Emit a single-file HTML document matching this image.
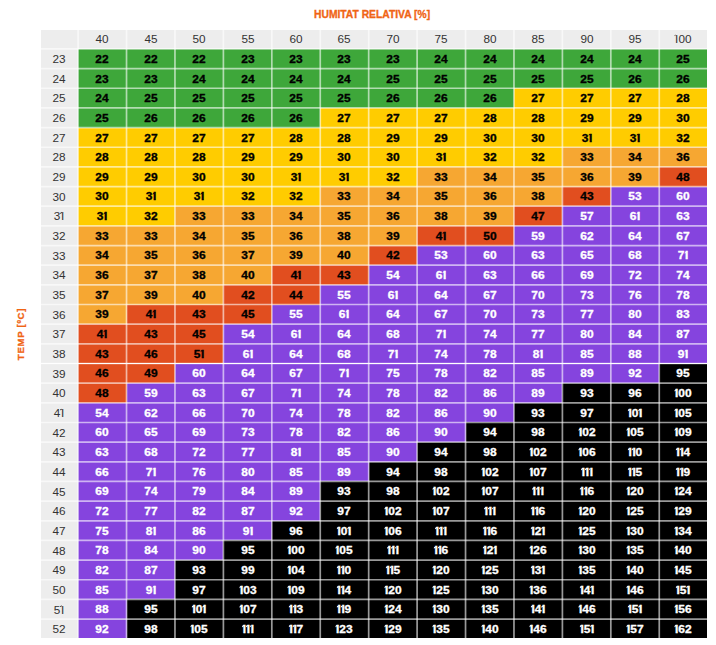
<!DOCTYPE html>
<html><head><meta charset="utf-8"><style>
html,body{margin:0;padding:0;background:#fff;width:716px;height:645px;overflow:hidden;position:relative;font-family:"Liberation Sans",sans-serif}
.c{position:absolute;white-space:nowrap;overflow:visible}
.c span{position:absolute;left:50%;transform:translate(-50%,-50%)}
.h{background:#ededed;color:#333333;font-size:11.2px;line-height:1}
.d{font-weight:bold;font-size:10.4px;color:#000;line-height:1;-webkit-text-stroke:0.3px currentColor}
.d span{transform:translate(-50%,-50%) scaleX(1.15)}
.h span{transform:translate(-50%,-50%) scaleX(1.05)}
i{font-style:normal;position:relative;display:inline-block}
i::before{content:"";position:absolute;background:currentColor;clip-path:polygon(100% 0,100% 50%,0 100%,0 50%)}
.d i{margin:0 -0.01em 0 0.06em}
.d i::before{left:-0.07em;top:0.0em;width:0.17em;height:0.28em}
.h i{margin:0 0.0em 0 0.05em;font-weight:normal}
.h i::before{left:-0.08em;top:0.0em;width:0.16em;height:0.2em}
.g{background:#3ea73a}
.y{background:#ffcc00}
.o{background:#f6a732}
.r{background:#e14e1f}
.p{background:#8544de;color:#fff}
.k{background:#000000;color:#fff}
.lv{position:absolute;top:29.6px;height:608.70px;width:1.7px;background:rgba(255,255,255,0.6)}
.lh{position:absolute;left:40.6px;width:666.40px;height:1.7px;background:rgba(255,255,255,0.6)}
.t1{position:absolute;color:#f06414;font-weight:bold;font-size:10.0px;white-space:nowrap;line-height:1;-webkit-text-stroke:0.3px currentColor}
</style></head><body>
<div class="t1" style="left:314.3px;top:10.3px;transform:scaleX(1.03);transform-origin:0 0">HUMITAT RELATIVA [%]</div>
<div class="t1" style="left:21.0px;top:334.3px;transform:translate(-50%,-50%) rotate(-90deg) scaleX(1.0);font-size:9.6px;letter-spacing:0.7px">TEMP [ºC]</div>
<div class="c h" style="left:40.60px;top:29.60px;width:37.50px;height:19.34px"><span style="top:10.17px"></span></div>
<div class="c h" style="left:78.10px;top:29.60px;width:48.43px;height:19.34px"><span style="top:10.17px">40</span></div>
<div class="c h" style="left:126.53px;top:29.60px;width:48.43px;height:19.34px"><span style="top:10.17px">45</span></div>
<div class="c h" style="left:174.96px;top:29.60px;width:48.43px;height:19.34px"><span style="top:10.17px">50</span></div>
<div class="c h" style="left:223.39px;top:29.60px;width:48.43px;height:19.34px"><span style="top:10.17px">55</span></div>
<div class="c h" style="left:271.82px;top:29.60px;width:48.43px;height:19.34px"><span style="top:10.17px">60</span></div>
<div class="c h" style="left:320.25px;top:29.60px;width:48.43px;height:19.34px"><span style="top:10.17px">65</span></div>
<div class="c h" style="left:368.68px;top:29.60px;width:48.43px;height:19.34px"><span style="top:10.17px">70</span></div>
<div class="c h" style="left:417.11px;top:29.60px;width:48.43px;height:19.34px"><span style="top:10.17px">75</span></div>
<div class="c h" style="left:465.54px;top:29.60px;width:48.43px;height:19.34px"><span style="top:10.17px">80</span></div>
<div class="c h" style="left:513.97px;top:29.60px;width:48.43px;height:19.34px"><span style="top:10.17px">85</span></div>
<div class="c h" style="left:562.40px;top:29.60px;width:48.43px;height:19.34px"><span style="top:10.17px">90</span></div>
<div class="c h" style="left:610.83px;top:29.60px;width:48.43px;height:19.34px"><span style="top:10.17px">95</span></div>
<div class="c h" style="left:659.26px;top:29.60px;width:47.74px;height:19.34px"><span style="top:10.17px"><i>I</i>00</span></div>
<div class="c h" style="left:40.60px;top:48.94px;width:37.50px;height:19.66px"><span style="top:11.23px">23</span></div>
<div class="c d g" style="left:78.10px;top:48.94px;width:48.43px;height:19.66px"><span style="top:10.93px">22</span></div>
<div class="c d g" style="left:126.53px;top:48.94px;width:48.43px;height:19.66px"><span style="top:10.93px">22</span></div>
<div class="c d g" style="left:174.96px;top:48.94px;width:48.43px;height:19.66px"><span style="top:10.93px">22</span></div>
<div class="c d g" style="left:223.39px;top:48.94px;width:48.43px;height:19.66px"><span style="top:10.93px">23</span></div>
<div class="c d g" style="left:271.82px;top:48.94px;width:48.43px;height:19.66px"><span style="top:10.93px">23</span></div>
<div class="c d g" style="left:320.25px;top:48.94px;width:48.43px;height:19.66px"><span style="top:10.93px">23</span></div>
<div class="c d g" style="left:368.68px;top:48.94px;width:48.43px;height:19.66px"><span style="top:10.93px">23</span></div>
<div class="c d g" style="left:417.11px;top:48.94px;width:48.43px;height:19.66px"><span style="top:10.93px">24</span></div>
<div class="c d g" style="left:465.54px;top:48.94px;width:48.43px;height:19.66px"><span style="top:10.93px">24</span></div>
<div class="c d g" style="left:513.97px;top:48.94px;width:48.43px;height:19.66px"><span style="top:10.93px">24</span></div>
<div class="c d g" style="left:562.40px;top:48.94px;width:48.43px;height:19.66px"><span style="top:10.93px">24</span></div>
<div class="c d g" style="left:610.83px;top:48.94px;width:48.43px;height:19.66px"><span style="top:10.93px">24</span></div>
<div class="c d g" style="left:659.26px;top:48.94px;width:47.74px;height:19.66px"><span style="top:10.93px">25</span></div>
<div class="c h" style="left:40.60px;top:68.60px;width:37.50px;height:19.66px"><span style="top:11.23px">24</span></div>
<div class="c d g" style="left:78.10px;top:68.60px;width:48.43px;height:19.66px"><span style="top:10.93px">23</span></div>
<div class="c d g" style="left:126.53px;top:68.60px;width:48.43px;height:19.66px"><span style="top:10.93px">23</span></div>
<div class="c d g" style="left:174.96px;top:68.60px;width:48.43px;height:19.66px"><span style="top:10.93px">24</span></div>
<div class="c d g" style="left:223.39px;top:68.60px;width:48.43px;height:19.66px"><span style="top:10.93px">24</span></div>
<div class="c d g" style="left:271.82px;top:68.60px;width:48.43px;height:19.66px"><span style="top:10.93px">24</span></div>
<div class="c d g" style="left:320.25px;top:68.60px;width:48.43px;height:19.66px"><span style="top:10.93px">24</span></div>
<div class="c d g" style="left:368.68px;top:68.60px;width:48.43px;height:19.66px"><span style="top:10.93px">25</span></div>
<div class="c d g" style="left:417.11px;top:68.60px;width:48.43px;height:19.66px"><span style="top:10.93px">25</span></div>
<div class="c d g" style="left:465.54px;top:68.60px;width:48.43px;height:19.66px"><span style="top:10.93px">25</span></div>
<div class="c d g" style="left:513.97px;top:68.60px;width:48.43px;height:19.66px"><span style="top:10.93px">25</span></div>
<div class="c d g" style="left:562.40px;top:68.60px;width:48.43px;height:19.66px"><span style="top:10.93px">25</span></div>
<div class="c d g" style="left:610.83px;top:68.60px;width:48.43px;height:19.66px"><span style="top:10.93px">26</span></div>
<div class="c d g" style="left:659.26px;top:68.60px;width:47.74px;height:19.66px"><span style="top:10.93px">26</span></div>
<div class="c h" style="left:40.60px;top:88.26px;width:37.50px;height:19.66px"><span style="top:11.23px">25</span></div>
<div class="c d g" style="left:78.10px;top:88.26px;width:48.43px;height:19.66px"><span style="top:10.93px">24</span></div>
<div class="c d g" style="left:126.53px;top:88.26px;width:48.43px;height:19.66px"><span style="top:10.93px">25</span></div>
<div class="c d g" style="left:174.96px;top:88.26px;width:48.43px;height:19.66px"><span style="top:10.93px">25</span></div>
<div class="c d g" style="left:223.39px;top:88.26px;width:48.43px;height:19.66px"><span style="top:10.93px">25</span></div>
<div class="c d g" style="left:271.82px;top:88.26px;width:48.43px;height:19.66px"><span style="top:10.93px">25</span></div>
<div class="c d g" style="left:320.25px;top:88.26px;width:48.43px;height:19.66px"><span style="top:10.93px">25</span></div>
<div class="c d g" style="left:368.68px;top:88.26px;width:48.43px;height:19.66px"><span style="top:10.93px">26</span></div>
<div class="c d g" style="left:417.11px;top:88.26px;width:48.43px;height:19.66px"><span style="top:10.93px">26</span></div>
<div class="c d g" style="left:465.54px;top:88.26px;width:48.43px;height:19.66px"><span style="top:10.93px">26</span></div>
<div class="c d y" style="left:513.97px;top:88.26px;width:48.43px;height:19.66px"><span style="top:10.93px">27</span></div>
<div class="c d y" style="left:562.40px;top:88.26px;width:48.43px;height:19.66px"><span style="top:10.93px">27</span></div>
<div class="c d y" style="left:610.83px;top:88.26px;width:48.43px;height:19.66px"><span style="top:10.93px">27</span></div>
<div class="c d y" style="left:659.26px;top:88.26px;width:47.74px;height:19.66px"><span style="top:10.93px">28</span></div>
<div class="c h" style="left:40.60px;top:107.92px;width:37.50px;height:19.66px"><span style="top:11.23px">26</span></div>
<div class="c d g" style="left:78.10px;top:107.92px;width:48.43px;height:19.66px"><span style="top:10.93px">25</span></div>
<div class="c d g" style="left:126.53px;top:107.92px;width:48.43px;height:19.66px"><span style="top:10.93px">26</span></div>
<div class="c d g" style="left:174.96px;top:107.92px;width:48.43px;height:19.66px"><span style="top:10.93px">26</span></div>
<div class="c d g" style="left:223.39px;top:107.92px;width:48.43px;height:19.66px"><span style="top:10.93px">26</span></div>
<div class="c d g" style="left:271.82px;top:107.92px;width:48.43px;height:19.66px"><span style="top:10.93px">26</span></div>
<div class="c d y" style="left:320.25px;top:107.92px;width:48.43px;height:19.66px"><span style="top:10.93px">27</span></div>
<div class="c d y" style="left:368.68px;top:107.92px;width:48.43px;height:19.66px"><span style="top:10.93px">27</span></div>
<div class="c d y" style="left:417.11px;top:107.92px;width:48.43px;height:19.66px"><span style="top:10.93px">27</span></div>
<div class="c d y" style="left:465.54px;top:107.92px;width:48.43px;height:19.66px"><span style="top:10.93px">28</span></div>
<div class="c d y" style="left:513.97px;top:107.92px;width:48.43px;height:19.66px"><span style="top:10.93px">28</span></div>
<div class="c d y" style="left:562.40px;top:107.92px;width:48.43px;height:19.66px"><span style="top:10.93px">29</span></div>
<div class="c d y" style="left:610.83px;top:107.92px;width:48.43px;height:19.66px"><span style="top:10.93px">29</span></div>
<div class="c d y" style="left:659.26px;top:107.92px;width:47.74px;height:19.66px"><span style="top:10.93px">30</span></div>
<div class="c h" style="left:40.60px;top:127.58px;width:37.50px;height:19.66px"><span style="top:11.23px">27</span></div>
<div class="c d y" style="left:78.10px;top:127.58px;width:48.43px;height:19.66px"><span style="top:10.93px">27</span></div>
<div class="c d y" style="left:126.53px;top:127.58px;width:48.43px;height:19.66px"><span style="top:10.93px">27</span></div>
<div class="c d y" style="left:174.96px;top:127.58px;width:48.43px;height:19.66px"><span style="top:10.93px">27</span></div>
<div class="c d y" style="left:223.39px;top:127.58px;width:48.43px;height:19.66px"><span style="top:10.93px">27</span></div>
<div class="c d y" style="left:271.82px;top:127.58px;width:48.43px;height:19.66px"><span style="top:10.93px">28</span></div>
<div class="c d y" style="left:320.25px;top:127.58px;width:48.43px;height:19.66px"><span style="top:10.93px">28</span></div>
<div class="c d y" style="left:368.68px;top:127.58px;width:48.43px;height:19.66px"><span style="top:10.93px">29</span></div>
<div class="c d y" style="left:417.11px;top:127.58px;width:48.43px;height:19.66px"><span style="top:10.93px">29</span></div>
<div class="c d y" style="left:465.54px;top:127.58px;width:48.43px;height:19.66px"><span style="top:10.93px">30</span></div>
<div class="c d y" style="left:513.97px;top:127.58px;width:48.43px;height:19.66px"><span style="top:10.93px">30</span></div>
<div class="c d y" style="left:562.40px;top:127.58px;width:48.43px;height:19.66px"><span style="top:10.93px">3<i>I</i></span></div>
<div class="c d y" style="left:610.83px;top:127.58px;width:48.43px;height:19.66px"><span style="top:10.93px">3<i>I</i></span></div>
<div class="c d y" style="left:659.26px;top:127.58px;width:47.74px;height:19.66px"><span style="top:10.93px">32</span></div>
<div class="c h" style="left:40.60px;top:147.24px;width:37.50px;height:19.66px"><span style="top:11.23px">28</span></div>
<div class="c d y" style="left:78.10px;top:147.24px;width:48.43px;height:19.66px"><span style="top:10.93px">28</span></div>
<div class="c d y" style="left:126.53px;top:147.24px;width:48.43px;height:19.66px"><span style="top:10.93px">28</span></div>
<div class="c d y" style="left:174.96px;top:147.24px;width:48.43px;height:19.66px"><span style="top:10.93px">28</span></div>
<div class="c d y" style="left:223.39px;top:147.24px;width:48.43px;height:19.66px"><span style="top:10.93px">29</span></div>
<div class="c d y" style="left:271.82px;top:147.24px;width:48.43px;height:19.66px"><span style="top:10.93px">29</span></div>
<div class="c d y" style="left:320.25px;top:147.24px;width:48.43px;height:19.66px"><span style="top:10.93px">30</span></div>
<div class="c d y" style="left:368.68px;top:147.24px;width:48.43px;height:19.66px"><span style="top:10.93px">30</span></div>
<div class="c d y" style="left:417.11px;top:147.24px;width:48.43px;height:19.66px"><span style="top:10.93px">3<i>I</i></span></div>
<div class="c d y" style="left:465.54px;top:147.24px;width:48.43px;height:19.66px"><span style="top:10.93px">32</span></div>
<div class="c d y" style="left:513.97px;top:147.24px;width:48.43px;height:19.66px"><span style="top:10.93px">32</span></div>
<div class="c d o" style="left:562.40px;top:147.24px;width:48.43px;height:19.66px"><span style="top:10.93px">33</span></div>
<div class="c d o" style="left:610.83px;top:147.24px;width:48.43px;height:19.66px"><span style="top:10.93px">34</span></div>
<div class="c d o" style="left:659.26px;top:147.24px;width:47.74px;height:19.66px"><span style="top:10.93px">36</span></div>
<div class="c h" style="left:40.60px;top:166.90px;width:37.50px;height:19.66px"><span style="top:11.23px">29</span></div>
<div class="c d y" style="left:78.10px;top:166.90px;width:48.43px;height:19.66px"><span style="top:10.93px">29</span></div>
<div class="c d y" style="left:126.53px;top:166.90px;width:48.43px;height:19.66px"><span style="top:10.93px">29</span></div>
<div class="c d y" style="left:174.96px;top:166.90px;width:48.43px;height:19.66px"><span style="top:10.93px">30</span></div>
<div class="c d y" style="left:223.39px;top:166.90px;width:48.43px;height:19.66px"><span style="top:10.93px">30</span></div>
<div class="c d y" style="left:271.82px;top:166.90px;width:48.43px;height:19.66px"><span style="top:10.93px">3<i>I</i></span></div>
<div class="c d y" style="left:320.25px;top:166.90px;width:48.43px;height:19.66px"><span style="top:10.93px">3<i>I</i></span></div>
<div class="c d y" style="left:368.68px;top:166.90px;width:48.43px;height:19.66px"><span style="top:10.93px">32</span></div>
<div class="c d o" style="left:417.11px;top:166.90px;width:48.43px;height:19.66px"><span style="top:10.93px">33</span></div>
<div class="c d o" style="left:465.54px;top:166.90px;width:48.43px;height:19.66px"><span style="top:10.93px">34</span></div>
<div class="c d o" style="left:513.97px;top:166.90px;width:48.43px;height:19.66px"><span style="top:10.93px">35</span></div>
<div class="c d o" style="left:562.40px;top:166.90px;width:48.43px;height:19.66px"><span style="top:10.93px">36</span></div>
<div class="c d o" style="left:610.83px;top:166.90px;width:48.43px;height:19.66px"><span style="top:10.93px">39</span></div>
<div class="c d r" style="left:659.26px;top:166.90px;width:47.74px;height:19.66px"><span style="top:10.93px">48</span></div>
<div class="c h" style="left:40.60px;top:186.56px;width:37.50px;height:19.66px"><span style="top:11.23px">30</span></div>
<div class="c d y" style="left:78.10px;top:186.56px;width:48.43px;height:19.66px"><span style="top:10.93px">30</span></div>
<div class="c d y" style="left:126.53px;top:186.56px;width:48.43px;height:19.66px"><span style="top:10.93px">3<i>I</i></span></div>
<div class="c d y" style="left:174.96px;top:186.56px;width:48.43px;height:19.66px"><span style="top:10.93px">3<i>I</i></span></div>
<div class="c d y" style="left:223.39px;top:186.56px;width:48.43px;height:19.66px"><span style="top:10.93px">32</span></div>
<div class="c d y" style="left:271.82px;top:186.56px;width:48.43px;height:19.66px"><span style="top:10.93px">32</span></div>
<div class="c d o" style="left:320.25px;top:186.56px;width:48.43px;height:19.66px"><span style="top:10.93px">33</span></div>
<div class="c d o" style="left:368.68px;top:186.56px;width:48.43px;height:19.66px"><span style="top:10.93px">34</span></div>
<div class="c d o" style="left:417.11px;top:186.56px;width:48.43px;height:19.66px"><span style="top:10.93px">35</span></div>
<div class="c d o" style="left:465.54px;top:186.56px;width:48.43px;height:19.66px"><span style="top:10.93px">36</span></div>
<div class="c d o" style="left:513.97px;top:186.56px;width:48.43px;height:19.66px"><span style="top:10.93px">38</span></div>
<div class="c d r" style="left:562.40px;top:186.56px;width:48.43px;height:19.66px"><span style="top:10.93px">43</span></div>
<div class="c d p" style="left:610.83px;top:186.56px;width:48.43px;height:19.66px"><span style="top:10.93px">53</span></div>
<div class="c d p" style="left:659.26px;top:186.56px;width:47.74px;height:19.66px"><span style="top:10.93px">60</span></div>
<div class="c h" style="left:40.60px;top:206.22px;width:37.50px;height:19.66px"><span style="top:11.23px">3<i>I</i></span></div>
<div class="c d y" style="left:78.10px;top:206.22px;width:48.43px;height:19.66px"><span style="top:10.93px">3<i>I</i></span></div>
<div class="c d y" style="left:126.53px;top:206.22px;width:48.43px;height:19.66px"><span style="top:10.93px">32</span></div>
<div class="c d o" style="left:174.96px;top:206.22px;width:48.43px;height:19.66px"><span style="top:10.93px">33</span></div>
<div class="c d o" style="left:223.39px;top:206.22px;width:48.43px;height:19.66px"><span style="top:10.93px">33</span></div>
<div class="c d o" style="left:271.82px;top:206.22px;width:48.43px;height:19.66px"><span style="top:10.93px">34</span></div>
<div class="c d o" style="left:320.25px;top:206.22px;width:48.43px;height:19.66px"><span style="top:10.93px">35</span></div>
<div class="c d o" style="left:368.68px;top:206.22px;width:48.43px;height:19.66px"><span style="top:10.93px">36</span></div>
<div class="c d o" style="left:417.11px;top:206.22px;width:48.43px;height:19.66px"><span style="top:10.93px">38</span></div>
<div class="c d o" style="left:465.54px;top:206.22px;width:48.43px;height:19.66px"><span style="top:10.93px">39</span></div>
<div class="c d r" style="left:513.97px;top:206.22px;width:48.43px;height:19.66px"><span style="top:10.93px">47</span></div>
<div class="c d p" style="left:562.40px;top:206.22px;width:48.43px;height:19.66px"><span style="top:10.93px">57</span></div>
<div class="c d p" style="left:610.83px;top:206.22px;width:48.43px;height:19.66px"><span style="top:10.93px">6<i>I</i></span></div>
<div class="c d p" style="left:659.26px;top:206.22px;width:47.74px;height:19.66px"><span style="top:10.93px">63</span></div>
<div class="c h" style="left:40.60px;top:225.88px;width:37.50px;height:19.66px"><span style="top:11.23px">32</span></div>
<div class="c d o" style="left:78.10px;top:225.88px;width:48.43px;height:19.66px"><span style="top:10.93px">33</span></div>
<div class="c d o" style="left:126.53px;top:225.88px;width:48.43px;height:19.66px"><span style="top:10.93px">33</span></div>
<div class="c d o" style="left:174.96px;top:225.88px;width:48.43px;height:19.66px"><span style="top:10.93px">34</span></div>
<div class="c d o" style="left:223.39px;top:225.88px;width:48.43px;height:19.66px"><span style="top:10.93px">35</span></div>
<div class="c d o" style="left:271.82px;top:225.88px;width:48.43px;height:19.66px"><span style="top:10.93px">36</span></div>
<div class="c d o" style="left:320.25px;top:225.88px;width:48.43px;height:19.66px"><span style="top:10.93px">38</span></div>
<div class="c d o" style="left:368.68px;top:225.88px;width:48.43px;height:19.66px"><span style="top:10.93px">39</span></div>
<div class="c d r" style="left:417.11px;top:225.88px;width:48.43px;height:19.66px"><span style="top:10.93px">4<i>I</i></span></div>
<div class="c d r" style="left:465.54px;top:225.88px;width:48.43px;height:19.66px"><span style="top:10.93px">50</span></div>
<div class="c d p" style="left:513.97px;top:225.88px;width:48.43px;height:19.66px"><span style="top:10.93px">59</span></div>
<div class="c d p" style="left:562.40px;top:225.88px;width:48.43px;height:19.66px"><span style="top:10.93px">62</span></div>
<div class="c d p" style="left:610.83px;top:225.88px;width:48.43px;height:19.66px"><span style="top:10.93px">64</span></div>
<div class="c d p" style="left:659.26px;top:225.88px;width:47.74px;height:19.66px"><span style="top:10.93px">67</span></div>
<div class="c h" style="left:40.60px;top:245.54px;width:37.50px;height:19.66px"><span style="top:11.23px">33</span></div>
<div class="c d o" style="left:78.10px;top:245.54px;width:48.43px;height:19.66px"><span style="top:10.93px">34</span></div>
<div class="c d o" style="left:126.53px;top:245.54px;width:48.43px;height:19.66px"><span style="top:10.93px">35</span></div>
<div class="c d o" style="left:174.96px;top:245.54px;width:48.43px;height:19.66px"><span style="top:10.93px">36</span></div>
<div class="c d o" style="left:223.39px;top:245.54px;width:48.43px;height:19.66px"><span style="top:10.93px">37</span></div>
<div class="c d o" style="left:271.82px;top:245.54px;width:48.43px;height:19.66px"><span style="top:10.93px">39</span></div>
<div class="c d o" style="left:320.25px;top:245.54px;width:48.43px;height:19.66px"><span style="top:10.93px">40</span></div>
<div class="c d r" style="left:368.68px;top:245.54px;width:48.43px;height:19.66px"><span style="top:10.93px">42</span></div>
<div class="c d p" style="left:417.11px;top:245.54px;width:48.43px;height:19.66px"><span style="top:10.93px">53</span></div>
<div class="c d p" style="left:465.54px;top:245.54px;width:48.43px;height:19.66px"><span style="top:10.93px">60</span></div>
<div class="c d p" style="left:513.97px;top:245.54px;width:48.43px;height:19.66px"><span style="top:10.93px">63</span></div>
<div class="c d p" style="left:562.40px;top:245.54px;width:48.43px;height:19.66px"><span style="top:10.93px">65</span></div>
<div class="c d p" style="left:610.83px;top:245.54px;width:48.43px;height:19.66px"><span style="top:10.93px">68</span></div>
<div class="c d p" style="left:659.26px;top:245.54px;width:47.74px;height:19.66px"><span style="top:10.93px">7<i>I</i></span></div>
<div class="c h" style="left:40.60px;top:265.20px;width:37.50px;height:19.66px"><span style="top:11.23px">34</span></div>
<div class="c d o" style="left:78.10px;top:265.20px;width:48.43px;height:19.66px"><span style="top:10.93px">36</span></div>
<div class="c d o" style="left:126.53px;top:265.20px;width:48.43px;height:19.66px"><span style="top:10.93px">37</span></div>
<div class="c d o" style="left:174.96px;top:265.20px;width:48.43px;height:19.66px"><span style="top:10.93px">38</span></div>
<div class="c d o" style="left:223.39px;top:265.20px;width:48.43px;height:19.66px"><span style="top:10.93px">40</span></div>
<div class="c d r" style="left:271.82px;top:265.20px;width:48.43px;height:19.66px"><span style="top:10.93px">4<i>I</i></span></div>
<div class="c d r" style="left:320.25px;top:265.20px;width:48.43px;height:19.66px"><span style="top:10.93px">43</span></div>
<div class="c d p" style="left:368.68px;top:265.20px;width:48.43px;height:19.66px"><span style="top:10.93px">54</span></div>
<div class="c d p" style="left:417.11px;top:265.20px;width:48.43px;height:19.66px"><span style="top:10.93px">6<i>I</i></span></div>
<div class="c d p" style="left:465.54px;top:265.20px;width:48.43px;height:19.66px"><span style="top:10.93px">63</span></div>
<div class="c d p" style="left:513.97px;top:265.20px;width:48.43px;height:19.66px"><span style="top:10.93px">66</span></div>
<div class="c d p" style="left:562.40px;top:265.20px;width:48.43px;height:19.66px"><span style="top:10.93px">69</span></div>
<div class="c d p" style="left:610.83px;top:265.20px;width:48.43px;height:19.66px"><span style="top:10.93px">72</span></div>
<div class="c d p" style="left:659.26px;top:265.20px;width:47.74px;height:19.66px"><span style="top:10.93px">74</span></div>
<div class="c h" style="left:40.60px;top:284.86px;width:37.50px;height:19.66px"><span style="top:11.23px">35</span></div>
<div class="c d o" style="left:78.10px;top:284.86px;width:48.43px;height:19.66px"><span style="top:10.93px">37</span></div>
<div class="c d o" style="left:126.53px;top:284.86px;width:48.43px;height:19.66px"><span style="top:10.93px">39</span></div>
<div class="c d o" style="left:174.96px;top:284.86px;width:48.43px;height:19.66px"><span style="top:10.93px">40</span></div>
<div class="c d r" style="left:223.39px;top:284.86px;width:48.43px;height:19.66px"><span style="top:10.93px">42</span></div>
<div class="c d r" style="left:271.82px;top:284.86px;width:48.43px;height:19.66px"><span style="top:10.93px">44</span></div>
<div class="c d p" style="left:320.25px;top:284.86px;width:48.43px;height:19.66px"><span style="top:10.93px">55</span></div>
<div class="c d p" style="left:368.68px;top:284.86px;width:48.43px;height:19.66px"><span style="top:10.93px">6<i>I</i></span></div>
<div class="c d p" style="left:417.11px;top:284.86px;width:48.43px;height:19.66px"><span style="top:10.93px">64</span></div>
<div class="c d p" style="left:465.54px;top:284.86px;width:48.43px;height:19.66px"><span style="top:10.93px">67</span></div>
<div class="c d p" style="left:513.97px;top:284.86px;width:48.43px;height:19.66px"><span style="top:10.93px">70</span></div>
<div class="c d p" style="left:562.40px;top:284.86px;width:48.43px;height:19.66px"><span style="top:10.93px">73</span></div>
<div class="c d p" style="left:610.83px;top:284.86px;width:48.43px;height:19.66px"><span style="top:10.93px">76</span></div>
<div class="c d p" style="left:659.26px;top:284.86px;width:47.74px;height:19.66px"><span style="top:10.93px">78</span></div>
<div class="c h" style="left:40.60px;top:304.52px;width:37.50px;height:19.66px"><span style="top:11.23px">36</span></div>
<div class="c d o" style="left:78.10px;top:304.52px;width:48.43px;height:19.66px"><span style="top:10.93px">39</span></div>
<div class="c d r" style="left:126.53px;top:304.52px;width:48.43px;height:19.66px"><span style="top:10.93px">4<i>I</i></span></div>
<div class="c d r" style="left:174.96px;top:304.52px;width:48.43px;height:19.66px"><span style="top:10.93px">43</span></div>
<div class="c d r" style="left:223.39px;top:304.52px;width:48.43px;height:19.66px"><span style="top:10.93px">45</span></div>
<div class="c d p" style="left:271.82px;top:304.52px;width:48.43px;height:19.66px"><span style="top:10.93px">55</span></div>
<div class="c d p" style="left:320.25px;top:304.52px;width:48.43px;height:19.66px"><span style="top:10.93px">6<i>I</i></span></div>
<div class="c d p" style="left:368.68px;top:304.52px;width:48.43px;height:19.66px"><span style="top:10.93px">64</span></div>
<div class="c d p" style="left:417.11px;top:304.52px;width:48.43px;height:19.66px"><span style="top:10.93px">67</span></div>
<div class="c d p" style="left:465.54px;top:304.52px;width:48.43px;height:19.66px"><span style="top:10.93px">70</span></div>
<div class="c d p" style="left:513.97px;top:304.52px;width:48.43px;height:19.66px"><span style="top:10.93px">73</span></div>
<div class="c d p" style="left:562.40px;top:304.52px;width:48.43px;height:19.66px"><span style="top:10.93px">77</span></div>
<div class="c d p" style="left:610.83px;top:304.52px;width:48.43px;height:19.66px"><span style="top:10.93px">80</span></div>
<div class="c d p" style="left:659.26px;top:304.52px;width:47.74px;height:19.66px"><span style="top:10.93px">83</span></div>
<div class="c h" style="left:40.60px;top:324.18px;width:37.50px;height:19.66px"><span style="top:11.23px">37</span></div>
<div class="c d r" style="left:78.10px;top:324.18px;width:48.43px;height:19.66px"><span style="top:10.93px">4<i>I</i></span></div>
<div class="c d r" style="left:126.53px;top:324.18px;width:48.43px;height:19.66px"><span style="top:10.93px">43</span></div>
<div class="c d r" style="left:174.96px;top:324.18px;width:48.43px;height:19.66px"><span style="top:10.93px">45</span></div>
<div class="c d p" style="left:223.39px;top:324.18px;width:48.43px;height:19.66px"><span style="top:10.93px">54</span></div>
<div class="c d p" style="left:271.82px;top:324.18px;width:48.43px;height:19.66px"><span style="top:10.93px">6<i>I</i></span></div>
<div class="c d p" style="left:320.25px;top:324.18px;width:48.43px;height:19.66px"><span style="top:10.93px">64</span></div>
<div class="c d p" style="left:368.68px;top:324.18px;width:48.43px;height:19.66px"><span style="top:10.93px">68</span></div>
<div class="c d p" style="left:417.11px;top:324.18px;width:48.43px;height:19.66px"><span style="top:10.93px">7<i>I</i></span></div>
<div class="c d p" style="left:465.54px;top:324.18px;width:48.43px;height:19.66px"><span style="top:10.93px">74</span></div>
<div class="c d p" style="left:513.97px;top:324.18px;width:48.43px;height:19.66px"><span style="top:10.93px">77</span></div>
<div class="c d p" style="left:562.40px;top:324.18px;width:48.43px;height:19.66px"><span style="top:10.93px">80</span></div>
<div class="c d p" style="left:610.83px;top:324.18px;width:48.43px;height:19.66px"><span style="top:10.93px">84</span></div>
<div class="c d p" style="left:659.26px;top:324.18px;width:47.74px;height:19.66px"><span style="top:10.93px">87</span></div>
<div class="c h" style="left:40.60px;top:343.84px;width:37.50px;height:19.66px"><span style="top:11.23px">38</span></div>
<div class="c d r" style="left:78.10px;top:343.84px;width:48.43px;height:19.66px"><span style="top:10.93px">43</span></div>
<div class="c d r" style="left:126.53px;top:343.84px;width:48.43px;height:19.66px"><span style="top:10.93px">46</span></div>
<div class="c d r" style="left:174.96px;top:343.84px;width:48.43px;height:19.66px"><span style="top:10.93px">5<i>I</i></span></div>
<div class="c d p" style="left:223.39px;top:343.84px;width:48.43px;height:19.66px"><span style="top:10.93px">6<i>I</i></span></div>
<div class="c d p" style="left:271.82px;top:343.84px;width:48.43px;height:19.66px"><span style="top:10.93px">64</span></div>
<div class="c d p" style="left:320.25px;top:343.84px;width:48.43px;height:19.66px"><span style="top:10.93px">68</span></div>
<div class="c d p" style="left:368.68px;top:343.84px;width:48.43px;height:19.66px"><span style="top:10.93px">7<i>I</i></span></div>
<div class="c d p" style="left:417.11px;top:343.84px;width:48.43px;height:19.66px"><span style="top:10.93px">74</span></div>
<div class="c d p" style="left:465.54px;top:343.84px;width:48.43px;height:19.66px"><span style="top:10.93px">78</span></div>
<div class="c d p" style="left:513.97px;top:343.84px;width:48.43px;height:19.66px"><span style="top:10.93px">8<i>I</i></span></div>
<div class="c d p" style="left:562.40px;top:343.84px;width:48.43px;height:19.66px"><span style="top:10.93px">85</span></div>
<div class="c d p" style="left:610.83px;top:343.84px;width:48.43px;height:19.66px"><span style="top:10.93px">88</span></div>
<div class="c d p" style="left:659.26px;top:343.84px;width:47.74px;height:19.66px"><span style="top:10.93px">9<i>I</i></span></div>
<div class="c h" style="left:40.60px;top:363.50px;width:37.50px;height:19.66px"><span style="top:11.23px">39</span></div>
<div class="c d r" style="left:78.10px;top:363.50px;width:48.43px;height:19.66px"><span style="top:10.93px">46</span></div>
<div class="c d r" style="left:126.53px;top:363.50px;width:48.43px;height:19.66px"><span style="top:10.93px">49</span></div>
<div class="c d p" style="left:174.96px;top:363.50px;width:48.43px;height:19.66px"><span style="top:10.93px">60</span></div>
<div class="c d p" style="left:223.39px;top:363.50px;width:48.43px;height:19.66px"><span style="top:10.93px">64</span></div>
<div class="c d p" style="left:271.82px;top:363.50px;width:48.43px;height:19.66px"><span style="top:10.93px">67</span></div>
<div class="c d p" style="left:320.25px;top:363.50px;width:48.43px;height:19.66px"><span style="top:10.93px">7<i>I</i></span></div>
<div class="c d p" style="left:368.68px;top:363.50px;width:48.43px;height:19.66px"><span style="top:10.93px">75</span></div>
<div class="c d p" style="left:417.11px;top:363.50px;width:48.43px;height:19.66px"><span style="top:10.93px">78</span></div>
<div class="c d p" style="left:465.54px;top:363.50px;width:48.43px;height:19.66px"><span style="top:10.93px">82</span></div>
<div class="c d p" style="left:513.97px;top:363.50px;width:48.43px;height:19.66px"><span style="top:10.93px">85</span></div>
<div class="c d p" style="left:562.40px;top:363.50px;width:48.43px;height:19.66px"><span style="top:10.93px">89</span></div>
<div class="c d p" style="left:610.83px;top:363.50px;width:48.43px;height:19.66px"><span style="top:10.93px">92</span></div>
<div class="c d k" style="left:659.26px;top:363.50px;width:47.74px;height:19.66px"><span style="top:10.93px">95</span></div>
<div class="c h" style="left:40.60px;top:383.16px;width:37.50px;height:19.66px"><span style="top:11.23px">40</span></div>
<div class="c d r" style="left:78.10px;top:383.16px;width:48.43px;height:19.66px"><span style="top:10.93px">48</span></div>
<div class="c d p" style="left:126.53px;top:383.16px;width:48.43px;height:19.66px"><span style="top:10.93px">59</span></div>
<div class="c d p" style="left:174.96px;top:383.16px;width:48.43px;height:19.66px"><span style="top:10.93px">63</span></div>
<div class="c d p" style="left:223.39px;top:383.16px;width:48.43px;height:19.66px"><span style="top:10.93px">67</span></div>
<div class="c d p" style="left:271.82px;top:383.16px;width:48.43px;height:19.66px"><span style="top:10.93px">7<i>I</i></span></div>
<div class="c d p" style="left:320.25px;top:383.16px;width:48.43px;height:19.66px"><span style="top:10.93px">74</span></div>
<div class="c d p" style="left:368.68px;top:383.16px;width:48.43px;height:19.66px"><span style="top:10.93px">78</span></div>
<div class="c d p" style="left:417.11px;top:383.16px;width:48.43px;height:19.66px"><span style="top:10.93px">82</span></div>
<div class="c d p" style="left:465.54px;top:383.16px;width:48.43px;height:19.66px"><span style="top:10.93px">86</span></div>
<div class="c d p" style="left:513.97px;top:383.16px;width:48.43px;height:19.66px"><span style="top:10.93px">89</span></div>
<div class="c d k" style="left:562.40px;top:383.16px;width:48.43px;height:19.66px"><span style="top:10.93px">93</span></div>
<div class="c d k" style="left:610.83px;top:383.16px;width:48.43px;height:19.66px"><span style="top:10.93px">96</span></div>
<div class="c d k" style="left:659.26px;top:383.16px;width:47.74px;height:19.66px"><span style="top:10.93px"><i>I</i>00</span></div>
<div class="c h" style="left:40.60px;top:402.82px;width:37.50px;height:19.66px"><span style="top:11.23px">4<i>I</i></span></div>
<div class="c d p" style="left:78.10px;top:402.82px;width:48.43px;height:19.66px"><span style="top:10.93px">54</span></div>
<div class="c d p" style="left:126.53px;top:402.82px;width:48.43px;height:19.66px"><span style="top:10.93px">62</span></div>
<div class="c d p" style="left:174.96px;top:402.82px;width:48.43px;height:19.66px"><span style="top:10.93px">66</span></div>
<div class="c d p" style="left:223.39px;top:402.82px;width:48.43px;height:19.66px"><span style="top:10.93px">70</span></div>
<div class="c d p" style="left:271.82px;top:402.82px;width:48.43px;height:19.66px"><span style="top:10.93px">74</span></div>
<div class="c d p" style="left:320.25px;top:402.82px;width:48.43px;height:19.66px"><span style="top:10.93px">78</span></div>
<div class="c d p" style="left:368.68px;top:402.82px;width:48.43px;height:19.66px"><span style="top:10.93px">82</span></div>
<div class="c d p" style="left:417.11px;top:402.82px;width:48.43px;height:19.66px"><span style="top:10.93px">86</span></div>
<div class="c d p" style="left:465.54px;top:402.82px;width:48.43px;height:19.66px"><span style="top:10.93px">90</span></div>
<div class="c d k" style="left:513.97px;top:402.82px;width:48.43px;height:19.66px"><span style="top:10.93px">93</span></div>
<div class="c d k" style="left:562.40px;top:402.82px;width:48.43px;height:19.66px"><span style="top:10.93px">97</span></div>
<div class="c d k" style="left:610.83px;top:402.82px;width:48.43px;height:19.66px"><span style="top:10.93px"><i>I</i>0<i>I</i></span></div>
<div class="c d k" style="left:659.26px;top:402.82px;width:47.74px;height:19.66px"><span style="top:10.93px"><i>I</i>05</span></div>
<div class="c h" style="left:40.60px;top:422.48px;width:37.50px;height:19.66px"><span style="top:11.23px">42</span></div>
<div class="c d p" style="left:78.10px;top:422.48px;width:48.43px;height:19.66px"><span style="top:10.93px">60</span></div>
<div class="c d p" style="left:126.53px;top:422.48px;width:48.43px;height:19.66px"><span style="top:10.93px">65</span></div>
<div class="c d p" style="left:174.96px;top:422.48px;width:48.43px;height:19.66px"><span style="top:10.93px">69</span></div>
<div class="c d p" style="left:223.39px;top:422.48px;width:48.43px;height:19.66px"><span style="top:10.93px">73</span></div>
<div class="c d p" style="left:271.82px;top:422.48px;width:48.43px;height:19.66px"><span style="top:10.93px">78</span></div>
<div class="c d p" style="left:320.25px;top:422.48px;width:48.43px;height:19.66px"><span style="top:10.93px">82</span></div>
<div class="c d p" style="left:368.68px;top:422.48px;width:48.43px;height:19.66px"><span style="top:10.93px">86</span></div>
<div class="c d p" style="left:417.11px;top:422.48px;width:48.43px;height:19.66px"><span style="top:10.93px">90</span></div>
<div class="c d k" style="left:465.54px;top:422.48px;width:48.43px;height:19.66px"><span style="top:10.93px">94</span></div>
<div class="c d k" style="left:513.97px;top:422.48px;width:48.43px;height:19.66px"><span style="top:10.93px">98</span></div>
<div class="c d k" style="left:562.40px;top:422.48px;width:48.43px;height:19.66px"><span style="top:10.93px"><i>I</i>02</span></div>
<div class="c d k" style="left:610.83px;top:422.48px;width:48.43px;height:19.66px"><span style="top:10.93px"><i>I</i>05</span></div>
<div class="c d k" style="left:659.26px;top:422.48px;width:47.74px;height:19.66px"><span style="top:10.93px"><i>I</i>09</span></div>
<div class="c h" style="left:40.60px;top:442.14px;width:37.50px;height:19.66px"><span style="top:11.23px">43</span></div>
<div class="c d p" style="left:78.10px;top:442.14px;width:48.43px;height:19.66px"><span style="top:10.93px">63</span></div>
<div class="c d p" style="left:126.53px;top:442.14px;width:48.43px;height:19.66px"><span style="top:10.93px">68</span></div>
<div class="c d p" style="left:174.96px;top:442.14px;width:48.43px;height:19.66px"><span style="top:10.93px">72</span></div>
<div class="c d p" style="left:223.39px;top:442.14px;width:48.43px;height:19.66px"><span style="top:10.93px">77</span></div>
<div class="c d p" style="left:271.82px;top:442.14px;width:48.43px;height:19.66px"><span style="top:10.93px">8<i>I</i></span></div>
<div class="c d p" style="left:320.25px;top:442.14px;width:48.43px;height:19.66px"><span style="top:10.93px">85</span></div>
<div class="c d p" style="left:368.68px;top:442.14px;width:48.43px;height:19.66px"><span style="top:10.93px">90</span></div>
<div class="c d k" style="left:417.11px;top:442.14px;width:48.43px;height:19.66px"><span style="top:10.93px">94</span></div>
<div class="c d k" style="left:465.54px;top:442.14px;width:48.43px;height:19.66px"><span style="top:10.93px">98</span></div>
<div class="c d k" style="left:513.97px;top:442.14px;width:48.43px;height:19.66px"><span style="top:10.93px"><i>I</i>02</span></div>
<div class="c d k" style="left:562.40px;top:442.14px;width:48.43px;height:19.66px"><span style="top:10.93px"><i>I</i>06</span></div>
<div class="c d k" style="left:610.83px;top:442.14px;width:48.43px;height:19.66px"><span style="top:10.93px"><i>I</i><i>I</i>0</span></div>
<div class="c d k" style="left:659.26px;top:442.14px;width:47.74px;height:19.66px"><span style="top:10.93px"><i>I</i><i>I</i>4</span></div>
<div class="c h" style="left:40.60px;top:461.80px;width:37.50px;height:19.66px"><span style="top:11.23px">44</span></div>
<div class="c d p" style="left:78.10px;top:461.80px;width:48.43px;height:19.66px"><span style="top:10.93px">66</span></div>
<div class="c d p" style="left:126.53px;top:461.80px;width:48.43px;height:19.66px"><span style="top:10.93px">7<i>I</i></span></div>
<div class="c d p" style="left:174.96px;top:461.80px;width:48.43px;height:19.66px"><span style="top:10.93px">76</span></div>
<div class="c d p" style="left:223.39px;top:461.80px;width:48.43px;height:19.66px"><span style="top:10.93px">80</span></div>
<div class="c d p" style="left:271.82px;top:461.80px;width:48.43px;height:19.66px"><span style="top:10.93px">85</span></div>
<div class="c d p" style="left:320.25px;top:461.80px;width:48.43px;height:19.66px"><span style="top:10.93px">89</span></div>
<div class="c d k" style="left:368.68px;top:461.80px;width:48.43px;height:19.66px"><span style="top:10.93px">94</span></div>
<div class="c d k" style="left:417.11px;top:461.80px;width:48.43px;height:19.66px"><span style="top:10.93px">98</span></div>
<div class="c d k" style="left:465.54px;top:461.80px;width:48.43px;height:19.66px"><span style="top:10.93px"><i>I</i>02</span></div>
<div class="c d k" style="left:513.97px;top:461.80px;width:48.43px;height:19.66px"><span style="top:10.93px"><i>I</i>07</span></div>
<div class="c d k" style="left:562.40px;top:461.80px;width:48.43px;height:19.66px"><span style="top:10.93px"><i>I</i><i>I</i><i>I</i></span></div>
<div class="c d k" style="left:610.83px;top:461.80px;width:48.43px;height:19.66px"><span style="top:10.93px"><i>I</i><i>I</i>5</span></div>
<div class="c d k" style="left:659.26px;top:461.80px;width:47.74px;height:19.66px"><span style="top:10.93px"><i>I</i><i>I</i>9</span></div>
<div class="c h" style="left:40.60px;top:481.46px;width:37.50px;height:19.66px"><span style="top:11.23px">45</span></div>
<div class="c d p" style="left:78.10px;top:481.46px;width:48.43px;height:19.66px"><span style="top:10.93px">69</span></div>
<div class="c d p" style="left:126.53px;top:481.46px;width:48.43px;height:19.66px"><span style="top:10.93px">74</span></div>
<div class="c d p" style="left:174.96px;top:481.46px;width:48.43px;height:19.66px"><span style="top:10.93px">79</span></div>
<div class="c d p" style="left:223.39px;top:481.46px;width:48.43px;height:19.66px"><span style="top:10.93px">84</span></div>
<div class="c d p" style="left:271.82px;top:481.46px;width:48.43px;height:19.66px"><span style="top:10.93px">89</span></div>
<div class="c d k" style="left:320.25px;top:481.46px;width:48.43px;height:19.66px"><span style="top:10.93px">93</span></div>
<div class="c d k" style="left:368.68px;top:481.46px;width:48.43px;height:19.66px"><span style="top:10.93px">98</span></div>
<div class="c d k" style="left:417.11px;top:481.46px;width:48.43px;height:19.66px"><span style="top:10.93px"><i>I</i>02</span></div>
<div class="c d k" style="left:465.54px;top:481.46px;width:48.43px;height:19.66px"><span style="top:10.93px"><i>I</i>07</span></div>
<div class="c d k" style="left:513.97px;top:481.46px;width:48.43px;height:19.66px"><span style="top:10.93px"><i>I</i><i>I</i><i>I</i></span></div>
<div class="c d k" style="left:562.40px;top:481.46px;width:48.43px;height:19.66px"><span style="top:10.93px"><i>I</i><i>I</i>6</span></div>
<div class="c d k" style="left:610.83px;top:481.46px;width:48.43px;height:19.66px"><span style="top:10.93px"><i>I</i>20</span></div>
<div class="c d k" style="left:659.26px;top:481.46px;width:47.74px;height:19.66px"><span style="top:10.93px"><i>I</i>24</span></div>
<div class="c h" style="left:40.60px;top:501.12px;width:37.50px;height:19.66px"><span style="top:11.23px">46</span></div>
<div class="c d p" style="left:78.10px;top:501.12px;width:48.43px;height:19.66px"><span style="top:10.93px">72</span></div>
<div class="c d p" style="left:126.53px;top:501.12px;width:48.43px;height:19.66px"><span style="top:10.93px">77</span></div>
<div class="c d p" style="left:174.96px;top:501.12px;width:48.43px;height:19.66px"><span style="top:10.93px">82</span></div>
<div class="c d p" style="left:223.39px;top:501.12px;width:48.43px;height:19.66px"><span style="top:10.93px">87</span></div>
<div class="c d p" style="left:271.82px;top:501.12px;width:48.43px;height:19.66px"><span style="top:10.93px">92</span></div>
<div class="c d k" style="left:320.25px;top:501.12px;width:48.43px;height:19.66px"><span style="top:10.93px">97</span></div>
<div class="c d k" style="left:368.68px;top:501.12px;width:48.43px;height:19.66px"><span style="top:10.93px"><i>I</i>02</span></div>
<div class="c d k" style="left:417.11px;top:501.12px;width:48.43px;height:19.66px"><span style="top:10.93px"><i>I</i>07</span></div>
<div class="c d k" style="left:465.54px;top:501.12px;width:48.43px;height:19.66px"><span style="top:10.93px"><i>I</i><i>I</i><i>I</i></span></div>
<div class="c d k" style="left:513.97px;top:501.12px;width:48.43px;height:19.66px"><span style="top:10.93px"><i>I</i><i>I</i>6</span></div>
<div class="c d k" style="left:562.40px;top:501.12px;width:48.43px;height:19.66px"><span style="top:10.93px"><i>I</i>20</span></div>
<div class="c d k" style="left:610.83px;top:501.12px;width:48.43px;height:19.66px"><span style="top:10.93px"><i>I</i>25</span></div>
<div class="c d k" style="left:659.26px;top:501.12px;width:47.74px;height:19.66px"><span style="top:10.93px"><i>I</i>29</span></div>
<div class="c h" style="left:40.60px;top:520.78px;width:37.50px;height:19.66px"><span style="top:11.23px">47</span></div>
<div class="c d p" style="left:78.10px;top:520.78px;width:48.43px;height:19.66px"><span style="top:10.93px">75</span></div>
<div class="c d p" style="left:126.53px;top:520.78px;width:48.43px;height:19.66px"><span style="top:10.93px">8<i>I</i></span></div>
<div class="c d p" style="left:174.96px;top:520.78px;width:48.43px;height:19.66px"><span style="top:10.93px">86</span></div>
<div class="c d p" style="left:223.39px;top:520.78px;width:48.43px;height:19.66px"><span style="top:10.93px">9<i>I</i></span></div>
<div class="c d k" style="left:271.82px;top:520.78px;width:48.43px;height:19.66px"><span style="top:10.93px">96</span></div>
<div class="c d k" style="left:320.25px;top:520.78px;width:48.43px;height:19.66px"><span style="top:10.93px"><i>I</i>0<i>I</i></span></div>
<div class="c d k" style="left:368.68px;top:520.78px;width:48.43px;height:19.66px"><span style="top:10.93px"><i>I</i>06</span></div>
<div class="c d k" style="left:417.11px;top:520.78px;width:48.43px;height:19.66px"><span style="top:10.93px"><i>I</i><i>I</i><i>I</i></span></div>
<div class="c d k" style="left:465.54px;top:520.78px;width:48.43px;height:19.66px"><span style="top:10.93px"><i>I</i><i>I</i>6</span></div>
<div class="c d k" style="left:513.97px;top:520.78px;width:48.43px;height:19.66px"><span style="top:10.93px"><i>I</i>2<i>I</i></span></div>
<div class="c d k" style="left:562.40px;top:520.78px;width:48.43px;height:19.66px"><span style="top:10.93px"><i>I</i>25</span></div>
<div class="c d k" style="left:610.83px;top:520.78px;width:48.43px;height:19.66px"><span style="top:10.93px"><i>I</i>30</span></div>
<div class="c d k" style="left:659.26px;top:520.78px;width:47.74px;height:19.66px"><span style="top:10.93px"><i>I</i>34</span></div>
<div class="c h" style="left:40.60px;top:540.44px;width:37.50px;height:19.66px"><span style="top:11.23px">48</span></div>
<div class="c d p" style="left:78.10px;top:540.44px;width:48.43px;height:19.66px"><span style="top:10.93px">78</span></div>
<div class="c d p" style="left:126.53px;top:540.44px;width:48.43px;height:19.66px"><span style="top:10.93px">84</span></div>
<div class="c d p" style="left:174.96px;top:540.44px;width:48.43px;height:19.66px"><span style="top:10.93px">90</span></div>
<div class="c d k" style="left:223.39px;top:540.44px;width:48.43px;height:19.66px"><span style="top:10.93px">95</span></div>
<div class="c d k" style="left:271.82px;top:540.44px;width:48.43px;height:19.66px"><span style="top:10.93px"><i>I</i>00</span></div>
<div class="c d k" style="left:320.25px;top:540.44px;width:48.43px;height:19.66px"><span style="top:10.93px"><i>I</i>05</span></div>
<div class="c d k" style="left:368.68px;top:540.44px;width:48.43px;height:19.66px"><span style="top:10.93px"><i>I</i><i>I</i><i>I</i></span></div>
<div class="c d k" style="left:417.11px;top:540.44px;width:48.43px;height:19.66px"><span style="top:10.93px"><i>I</i><i>I</i>6</span></div>
<div class="c d k" style="left:465.54px;top:540.44px;width:48.43px;height:19.66px"><span style="top:10.93px"><i>I</i>2<i>I</i></span></div>
<div class="c d k" style="left:513.97px;top:540.44px;width:48.43px;height:19.66px"><span style="top:10.93px"><i>I</i>26</span></div>
<div class="c d k" style="left:562.40px;top:540.44px;width:48.43px;height:19.66px"><span style="top:10.93px"><i>I</i>30</span></div>
<div class="c d k" style="left:610.83px;top:540.44px;width:48.43px;height:19.66px"><span style="top:10.93px"><i>I</i>35</span></div>
<div class="c d k" style="left:659.26px;top:540.44px;width:47.74px;height:19.66px"><span style="top:10.93px"><i>I</i>40</span></div>
<div class="c h" style="left:40.60px;top:560.10px;width:37.50px;height:19.66px"><span style="top:11.23px">49</span></div>
<div class="c d p" style="left:78.10px;top:560.10px;width:48.43px;height:19.66px"><span style="top:10.93px">82</span></div>
<div class="c d p" style="left:126.53px;top:560.10px;width:48.43px;height:19.66px"><span style="top:10.93px">87</span></div>
<div class="c d k" style="left:174.96px;top:560.10px;width:48.43px;height:19.66px"><span style="top:10.93px">93</span></div>
<div class="c d k" style="left:223.39px;top:560.10px;width:48.43px;height:19.66px"><span style="top:10.93px">99</span></div>
<div class="c d k" style="left:271.82px;top:560.10px;width:48.43px;height:19.66px"><span style="top:10.93px"><i>I</i>04</span></div>
<div class="c d k" style="left:320.25px;top:560.10px;width:48.43px;height:19.66px"><span style="top:10.93px"><i>I</i><i>I</i>0</span></div>
<div class="c d k" style="left:368.68px;top:560.10px;width:48.43px;height:19.66px"><span style="top:10.93px"><i>I</i><i>I</i>5</span></div>
<div class="c d k" style="left:417.11px;top:560.10px;width:48.43px;height:19.66px"><span style="top:10.93px"><i>I</i>20</span></div>
<div class="c d k" style="left:465.54px;top:560.10px;width:48.43px;height:19.66px"><span style="top:10.93px"><i>I</i>25</span></div>
<div class="c d k" style="left:513.97px;top:560.10px;width:48.43px;height:19.66px"><span style="top:10.93px"><i>I</i>3<i>I</i></span></div>
<div class="c d k" style="left:562.40px;top:560.10px;width:48.43px;height:19.66px"><span style="top:10.93px"><i>I</i>35</span></div>
<div class="c d k" style="left:610.83px;top:560.10px;width:48.43px;height:19.66px"><span style="top:10.93px"><i>I</i>40</span></div>
<div class="c d k" style="left:659.26px;top:560.10px;width:47.74px;height:19.66px"><span style="top:10.93px"><i>I</i>45</span></div>
<div class="c h" style="left:40.60px;top:579.76px;width:37.50px;height:19.66px"><span style="top:11.23px">50</span></div>
<div class="c d p" style="left:78.10px;top:579.76px;width:48.43px;height:19.66px"><span style="top:10.93px">85</span></div>
<div class="c d p" style="left:126.53px;top:579.76px;width:48.43px;height:19.66px"><span style="top:10.93px">9<i>I</i></span></div>
<div class="c d k" style="left:174.96px;top:579.76px;width:48.43px;height:19.66px"><span style="top:10.93px">97</span></div>
<div class="c d k" style="left:223.39px;top:579.76px;width:48.43px;height:19.66px"><span style="top:10.93px"><i>I</i>03</span></div>
<div class="c d k" style="left:271.82px;top:579.76px;width:48.43px;height:19.66px"><span style="top:10.93px"><i>I</i>09</span></div>
<div class="c d k" style="left:320.25px;top:579.76px;width:48.43px;height:19.66px"><span style="top:10.93px"><i>I</i><i>I</i>4</span></div>
<div class="c d k" style="left:368.68px;top:579.76px;width:48.43px;height:19.66px"><span style="top:10.93px"><i>I</i>20</span></div>
<div class="c d k" style="left:417.11px;top:579.76px;width:48.43px;height:19.66px"><span style="top:10.93px"><i>I</i>25</span></div>
<div class="c d k" style="left:465.54px;top:579.76px;width:48.43px;height:19.66px"><span style="top:10.93px"><i>I</i>30</span></div>
<div class="c d k" style="left:513.97px;top:579.76px;width:48.43px;height:19.66px"><span style="top:10.93px"><i>I</i>36</span></div>
<div class="c d k" style="left:562.40px;top:579.76px;width:48.43px;height:19.66px"><span style="top:10.93px"><i>I</i>4<i>I</i></span></div>
<div class="c d k" style="left:610.83px;top:579.76px;width:48.43px;height:19.66px"><span style="top:10.93px"><i>I</i>46</span></div>
<div class="c d k" style="left:659.26px;top:579.76px;width:47.74px;height:19.66px"><span style="top:10.93px"><i>I</i>5<i>I</i></span></div>
<div class="c h" style="left:40.60px;top:599.42px;width:37.50px;height:19.66px"><span style="top:11.23px">5<i>I</i></span></div>
<div class="c d p" style="left:78.10px;top:599.42px;width:48.43px;height:19.66px"><span style="top:10.93px">88</span></div>
<div class="c d k" style="left:126.53px;top:599.42px;width:48.43px;height:19.66px"><span style="top:10.93px">95</span></div>
<div class="c d k" style="left:174.96px;top:599.42px;width:48.43px;height:19.66px"><span style="top:10.93px"><i>I</i>0<i>I</i></span></div>
<div class="c d k" style="left:223.39px;top:599.42px;width:48.43px;height:19.66px"><span style="top:10.93px"><i>I</i>07</span></div>
<div class="c d k" style="left:271.82px;top:599.42px;width:48.43px;height:19.66px"><span style="top:10.93px"><i>I</i><i>I</i>3</span></div>
<div class="c d k" style="left:320.25px;top:599.42px;width:48.43px;height:19.66px"><span style="top:10.93px"><i>I</i><i>I</i>9</span></div>
<div class="c d k" style="left:368.68px;top:599.42px;width:48.43px;height:19.66px"><span style="top:10.93px"><i>I</i>24</span></div>
<div class="c d k" style="left:417.11px;top:599.42px;width:48.43px;height:19.66px"><span style="top:10.93px"><i>I</i>30</span></div>
<div class="c d k" style="left:465.54px;top:599.42px;width:48.43px;height:19.66px"><span style="top:10.93px"><i>I</i>35</span></div>
<div class="c d k" style="left:513.97px;top:599.42px;width:48.43px;height:19.66px"><span style="top:10.93px"><i>I</i>4<i>I</i></span></div>
<div class="c d k" style="left:562.40px;top:599.42px;width:48.43px;height:19.66px"><span style="top:10.93px"><i>I</i>46</span></div>
<div class="c d k" style="left:610.83px;top:599.42px;width:48.43px;height:19.66px"><span style="top:10.93px"><i>I</i>5<i>I</i></span></div>
<div class="c d k" style="left:659.26px;top:599.42px;width:47.74px;height:19.66px"><span style="top:10.93px"><i>I</i>56</span></div>
<div class="c h" style="left:40.60px;top:619.08px;width:37.50px;height:19.22px"><span style="top:11.01px">52</span></div>
<div class="c d p" style="left:78.10px;top:619.08px;width:48.43px;height:19.22px"><span style="top:10.71px">92</span></div>
<div class="c d k" style="left:126.53px;top:619.08px;width:48.43px;height:19.22px"><span style="top:10.71px">98</span></div>
<div class="c d k" style="left:174.96px;top:619.08px;width:48.43px;height:19.22px"><span style="top:10.71px"><i>I</i>05</span></div>
<div class="c d k" style="left:223.39px;top:619.08px;width:48.43px;height:19.22px"><span style="top:10.71px"><i>I</i><i>I</i><i>I</i></span></div>
<div class="c d k" style="left:271.82px;top:619.08px;width:48.43px;height:19.22px"><span style="top:10.71px"><i>I</i><i>I</i>7</span></div>
<div class="c d k" style="left:320.25px;top:619.08px;width:48.43px;height:19.22px"><span style="top:10.71px"><i>I</i>23</span></div>
<div class="c d k" style="left:368.68px;top:619.08px;width:48.43px;height:19.22px"><span style="top:10.71px"><i>I</i>29</span></div>
<div class="c d k" style="left:417.11px;top:619.08px;width:48.43px;height:19.22px"><span style="top:10.71px"><i>I</i>35</span></div>
<div class="c d k" style="left:465.54px;top:619.08px;width:48.43px;height:19.22px"><span style="top:10.71px"><i>I</i>40</span></div>
<div class="c d k" style="left:513.97px;top:619.08px;width:48.43px;height:19.22px"><span style="top:10.71px"><i>I</i>46</span></div>
<div class="c d k" style="left:562.40px;top:619.08px;width:48.43px;height:19.22px"><span style="top:10.71px"><i>I</i>5<i>I</i></span></div>
<div class="c d k" style="left:610.83px;top:619.08px;width:48.43px;height:19.22px"><span style="top:10.71px"><i>I</i>57</span></div>
<div class="c d k" style="left:659.26px;top:619.08px;width:47.74px;height:19.22px"><span style="top:10.71px"><i>I</i>62</span></div>
<svg width="716" height="645" style="position:absolute;left:0;top:0"><path d="M78.10 29.60V638.30M126.53 29.60V638.30M174.96 29.60V638.30M223.39 29.60V638.30M271.82 29.60V638.30M320.25 29.60V638.30M368.68 29.60V638.30M417.11 29.60V638.30M465.54 29.60V638.30M513.97 29.60V638.30M562.40 29.60V638.30M610.83 29.60V638.30M659.26 29.60V638.30" fill="none" stroke="#fff" stroke-opacity="0.6" stroke-width="1.7"/><path d="M40.60 48.94H707.00M40.60 68.60H707.00M40.60 88.26H707.00M40.60 107.92H707.00M40.60 127.58H707.00M40.60 147.24H707.00M40.60 166.90H707.00M40.60 186.56H707.00M40.60 206.22H707.00M40.60 225.88H707.00M40.60 245.54H707.00M40.60 265.20H707.00M40.60 284.86H707.00M40.60 304.52H707.00M40.60 324.18H707.00M40.60 343.84H707.00M40.60 363.50H707.00M40.60 383.16H707.00M40.60 402.82H707.00M40.60 422.48H707.00M40.60 442.14H707.00M40.60 461.80H707.00M40.60 481.46H707.00M40.60 501.12H707.00M40.60 520.78H707.00M40.60 540.44H707.00M40.60 560.10H707.00M40.60 579.76H707.00M40.60 599.42H707.00M40.60 619.08H707.00" fill="none" stroke="#fff" stroke-opacity="0.6" stroke-width="1.7"/></svg>
</body></html>
